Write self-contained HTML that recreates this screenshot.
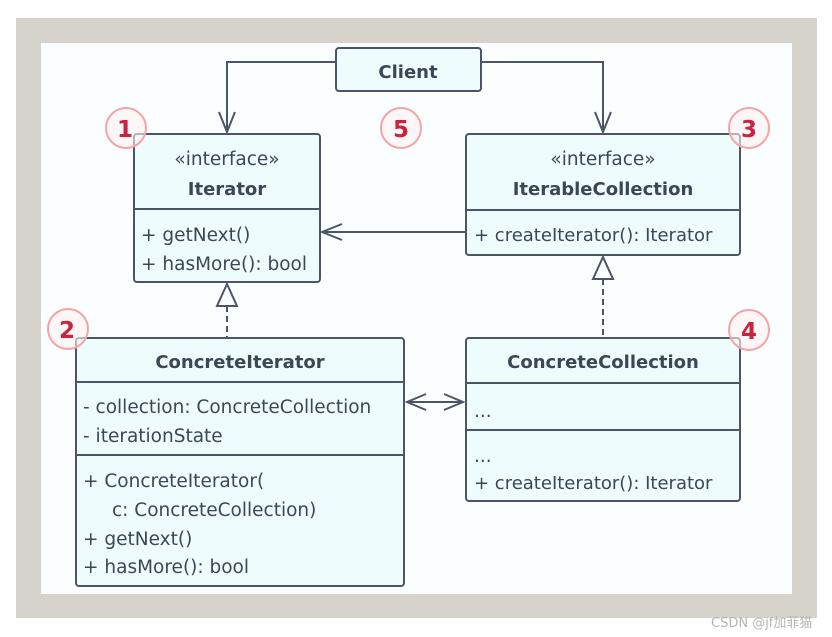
<!DOCTYPE html>
<html><head><meta charset="utf-8"><style>
html,body{margin:0;padding:0;background:#fff;}
svg{display:block;}
text{font-family:"DejaVu Sans","Liberation Sans",sans-serif;fill:#3d4655;}
.b{font-weight:bold;}
</style></head><body>
<svg width="832" height="637" viewBox="0 0 832 637" xmlns="http://www.w3.org/2000/svg">
<rect x="16" y="18" width="801" height="600" fill="#d6d3cb"/>
<rect x="41" y="43" width="751" height="551" fill="#fbfeff"/>
<g stroke="#4b5567" stroke-width="2" fill="none">
<polyline points="336,62 227,62 227,132"/>
<polyline points="219,112 227,132 235,112"/>
<polyline points="481,62 603,62 603,132"/>
<polyline points="595,112 603,132 611,112"/>
<line x1="466" y1="232" x2="322" y2="232"/>
<polyline points="342,224 322,232 342,240"/>
<line x1="227" y1="306" x2="227" y2="338" stroke-dasharray="6,4"/>
<polygon points="227,284 217,306 237,306" fill="#fbfeff"/>
<line x1="603" y1="279" x2="603" y2="338" stroke-dasharray="6,4"/>
<polygon points="603,257 593,279 613,279" fill="#fbfeff"/>
<line x1="407" y1="402" x2="463" y2="402"/>
<polyline points="426,394 407,402 426,410"/>
<polyline points="444,394 463,402 444,410"/>
</g>
<g stroke="#4b5567" stroke-width="2" fill="#effcfd">
<rect x="336" y="48" width="145" height="43" rx="3"/>
<rect x="134" y="134" width="186" height="148" rx="3"/>
<line x1="134" y1="209" x2="320" y2="209"/>
<rect x="466" y="134" width="274" height="121" rx="3"/>
<line x1="466" y1="210" x2="740" y2="210"/>
<rect x="76" y="338" width="328" height="248" rx="3"/>
<line x1="76" y1="382" x2="404" y2="382"/>
<line x1="76" y1="455" x2="404" y2="455"/>
<rect x="466" y="338" width="274" height="163" rx="3"/>
<line x1="466" y1="383" x2="740" y2="383"/>
<line x1="466" y1="430" x2="740" y2="430"/>
</g>
<g font-size="18.5">
<text x="408" y="78" text-anchor="middle" class="b" font-size="18">Client</text>
<text x="227" y="165" text-anchor="middle" font-size="18.5">«interface»</text>
<text x="227" y="195" text-anchor="middle" class="b" font-size="18">Iterator</text>
<text x="141" y="241">+ getNext()</text>
<text x="141" y="270">+ hasMore(): bool</text>
<text x="603" y="165" text-anchor="middle" font-size="18.5">«interface»</text>
<text x="603" y="195" text-anchor="middle" class="b" font-size="18">IterableCollection</text>
<text x="474" y="241" font-size="18">+ createIterator(): Iterator</text>
<text x="240" y="368" text-anchor="middle" class="b" font-size="18">ConcreteIterator</text>
<text x="83" y="413">- collection: ConcreteCollection</text>
<text x="83" y="442">- iterationState</text>
<text x="83" y="487">+ ConcreteIterator(</text>
<text x="112" y="516">c: ConcreteCollection)</text>
<text x="83" y="545">+ getNext()</text>
<text x="83" y="573">+ hasMore(): bool</text>
<text x="603" y="368" text-anchor="middle" class="b" font-size="18">ConcreteCollection</text>
<text x="474" y="417">...</text>
<text x="474" y="462">...</text>
<text x="474" y="489" font-size="18">+ createIterator(): Iterator</text>
</g>
<g stroke="#f4a3a6" stroke-width="2" fill="rgba(255,240,240,0.6)">
<circle cx="126" cy="128" r="20"/>
<circle cx="401" cy="128" r="20"/>
<circle cx="749" cy="128" r="20"/>
<circle cx="68" cy="329" r="20"/>
<circle cx="749" cy="330" r="20"/>
</g>
<g font-size="23" font-weight="bold" text-anchor="middle">
<text x="125" y="137" style="fill:#c9233f">1</text>
<text x="401" y="137" style="fill:#c9233f">5</text>
<text x="749" y="137" style="fill:#c9233f">3</text>
<text x="67" y="338" style="fill:#c9233f">2</text>
<text x="749" y="339" style="fill:#c9233f">4</text>
</g>
<text x="711" y="627" font-size="13" style="fill:#b5b5b5" font-family="Liberation Sans,Noto Sans CJK SC,sans-serif">CSDN @jf加菲猫</text>
</svg>
</body></html>
